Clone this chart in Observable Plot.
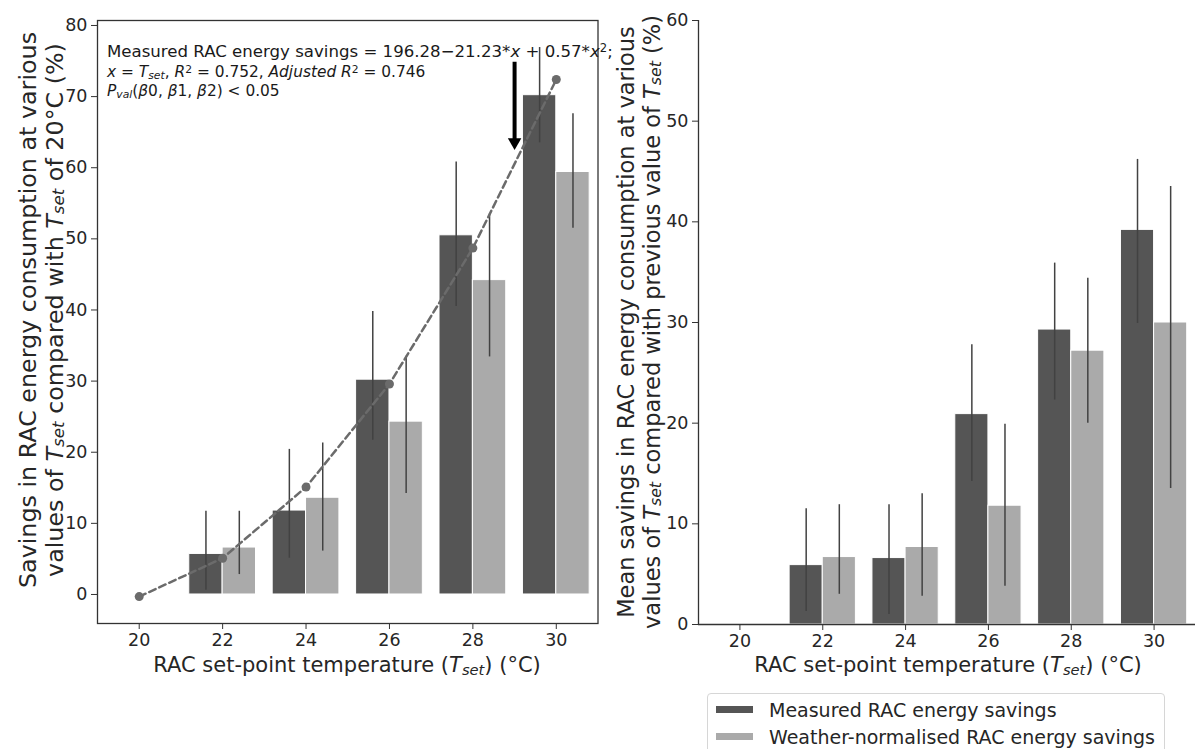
<!DOCTYPE html>
<html><head><meta charset="utf-8">
<script src="https://cdn.jsdelivr.net/npm/d3@7"></script>
<script src="https://cdn.jsdelivr.net/npm/@observablehq/plot@0.6"></script>
<style>
html,body{margin:0;padding:0;background:#fff;overflow:hidden;width:1196px;height:749px;}
#wrap{position:relative;width:1196px;height:749px;font-family:"DejaVu Sans",sans-serif;color:#262626;}
#left,#right{position:absolute;top:0;}
#left{left:0;width:600px;} #right{left:600px;width:596px;}
#legend{position:absolute;left:707px;top:693px;width:458px;height:90px;border:1px solid #d6d6d6;border-radius:4px;background:#fff;box-sizing:border-box;}
.row{position:absolute;left:0;height:27px;display:flex;align-items:center;font-size:19px;color:#262626;white-space:nowrap;}
.sw{display:inline-block;width:37px;height:7px;margin-left:8px;margin-right:16px;}
</style></head><body>
<div id="wrap"><div id="left"></div><div id="right"></div><div id="legend"></div></div>
<script>
// ---- data ----
const temps = [20, 22, 24, 26, 28, 30];
const xTicks = [20, 22, 24, 26, 28, 30];
const yTicksLeft = [0, 10, 20, 30, 40, 50, 60, 70, 80];
const yTicksRight = [0, 10, 20, 30, 40, 50, 60];
const series = ["Measured RAC energy savings", "Weather-normalised RAC energy savings"];
const seriesColors = ["#555555", "#aaaaaa"];

// left panel: savings vs 20°C
const measuredTotal   = [0, 5.7, 11.8, 30.2, 50.5, 70.2];
const measuredTotalLo = [0, 0.6, 5.1, 21.7, 40.5, 63.5];
const measuredTotalHi = [0, 11.7, 20.4, 39.8, 60.8, 76.9];
const weatherTotal    = [0, 6.6, 13.6, 24.3, 44.2, 59.4];
const weatherTotalLo  = [0, 2.8, 6.1, 14.2, 33.4, 51.5];
const weatherTotalHi  = [0, 11.7, 21.3, 33.5, 53.5, 67.6];
const fitValues       = [-0.3, 5.1, 15.1, 29.6, 48.7, 72.4];

// right panel: savings vs previous set-point
const measuredStep   = [0, 5.9, 6.6, 20.9, 29.3, 39.2];
const measuredStepLo = [0, 1.3, 1.0, 14.2, 22.3, 29.9];
const measuredStepHi = [0, 11.5, 11.9, 27.8, 35.9, 46.2];
const weatherStep    = [0, 6.7, 7.7, 11.8, 27.2, 30.0];
const weatherStepLo  = [0, 3.0, 2.8, 3.8, 20.0, 13.5];
const weatherStepHi  = [0, 11.9, 13.0, 19.9, 34.4, 43.5];

// annotation arrow (data units)
const arrowX = [29];
const arrowFrom = [74.9];
const arrowHead = [63.6];

// ---- build tables ----
function table(m, mlo, mhi, w, wlo, whi) {
  const out = [];
  temps.forEach((t, i) => {
    out.push({t, s: series[0], k: 0, v: m[i], lo: mlo[i], hi: mhi[i]});
    out.push({t, s: series[1], k: 1, v: w[i], lo: wlo[i], hi: whi[i]});
  });
  return out;
}
const rowsTotal = table(measuredTotal, measuredTotalLo, measuredTotalHi, weatherTotal, weatherTotalLo, weatherTotalHi);
const rowsStep = table(measuredStep, measuredStepLo, measuredStepHi, weatherStep, weatherStepLo, weatherStepHi);
const fit = temps.map((t, i) => ({t, v: fitValues[i]}));
const arrow = arrowX.map((x, i) => ({x, y1: arrowFrom[i], y2: arrowHead[i]}));

const W = 0.8;
const barMarks = rows => [
  Plot.rect(rows, {x1: d => d.t - W + d.k * W, x2: d => d.t + d.k * W, y1: 0, y2: "v", fill: "s", stroke: "white", strokeWidth: 1}),
  Plot.ruleX(rows, {x: d => d.t - W / 2 + d.k * W, y1: "lo", y2: "hi", stroke: "#424242", strokeWidth: 1.5})
];
const baseStyle = {fontFamily: "DejaVu Sans", fontSize: "17.5px", color: "#262626", background: "transparent", overflow: "visible"};

const left = Plot.plot({
  width: 600, height: 690, marginLeft: 97, marginRight: 2.5, marginTop: 20, marginBottom: 67,
  style: baseStyle,
  x: {type: "linear", domain: [19, 31]},
  y: {domain: [-4.08, 80.7]},
  color: {domain: series, range: seriesColors},
  marks: [
    ...barMarks(rowsTotal),
    Plot.line(fit, {x: "t", y: "v", stroke: "#6b6b6b", strokeWidth: 2.5, strokeDasharray: "7,4"}),
    Plot.dot(fit, {x: "t", y: "v", r: 4.5, fill: "#6b6b6b"}),
    Plot.link(arrow, {x1: "x", x2: "x", y1: "y1", y2: "y2", stroke: "black", strokeWidth: 4}),
    Plot.dot(arrow, {x: "x", y: "y2", symbol: "triangle", rotate: 180, r: 5, fill: "black"}),
    Plot.frame({stroke: "#333", strokeWidth: 1.3}),
    Plot.axisX({ticks: xTicks, tickSize: 6, tickPadding: 4, label: null, stroke: "#333"}),
    Plot.axisY({ticks: yTicksLeft, tickSize: 6, tickPadding: 4, label: null, stroke: "#333"})
  ]
});
document.getElementById("left").appendChild(left);

const right = Plot.plot({
  width: 596, height: 690, marginLeft: 98, marginRight: 1, marginTop: 20, marginBottom: 66,
  style: baseStyle,
  x: {type: "linear", domain: [19, 31]},
  y: {domain: [0, 60]},
  color: {domain: series, range: seriesColors},
  marks: [
    ...barMarks(rowsStep),
    Plot.ruleX([19], {stroke: "#333", strokeWidth: 1.3}),
    Plot.ruleY([0], {stroke: "#333", strokeWidth: 1.3}),
    Plot.axisX({ticks: xTicks, tickSize: 6, tickPadding: 4, label: null, stroke: "#333"}),
    Plot.axisY({ticks: yTicksRight, tickSize: 6, tickPadding: 4, label: null, stroke: "#333"})
  ]
});
document.getElementById("right").appendChild(right);

// ---- rich text helper ----
function rich(sel, parts) {
  parts.forEach(p => {
    const s = sel.append("tspan").text(p.t);
    if (p.i) s.attr("font-style", "italic");
    if (p.sub) s.attr("baseline-shift", "-22%").attr("font-size", "70%");
    if (p.sup) s.attr("baseline-shift", "40%").attr("font-size", "70%");
  });
}
const Tset = [{t: "T", i: true}, {t: "set", i: true, sub: true}];

function ylabel(svg, x, cy, size, parts) {
  const t = d3.select(svg).append("text")
    .attr("transform", `translate(${x},${cy}) rotate(-90)`)
    .attr("text-anchor", "middle").attr("dominant-baseline", "central")
    .attr("font-size", size).attr("fill", "#262626").attr("font-family", "DejaVu Sans");
  rich(t, parts);
}
function xlabel(svg, cx, y) {
  const t = d3.select(svg).append("text").attr("x", cx).attr("y", y)
    .attr("text-anchor", "middle").attr("font-size", 21).attr("fill", "#262626").attr("font-family", "DejaVu Sans");
  rich(t, [{t: "RAC set-point temperature ("}, ...Tset, {t: ") (°C)"}]);
}

ylabel(left, 28, 310, 23.8, [{t: "Savings in RAC energy consumption at various"}]);
ylabel(left, 55, 310, 23.8, [{t: "values of "}, ...Tset, {t: " compared with "}, ...Tset, {t: " of 20°C (%)"}]);
xlabel(left, 347, 672);

ylabel(right, 26, 322, 22.5, [{t: "Mean savings in RAC energy consumption at various"}]);
ylabel(right, 52, 322, 22.5, [{t: "values of "}, ...Tset, {t: " compared with previous value of "}, ...Tset, {t: " (%)"}]);
xlabel(right, 348, 672);

// annotation
const annLines = [
  [{t: "Measured RAC energy savings = 196.28\u221221.23*"}, {t: "x", i: true}, {t: " + 0.57*"}, {t: "x", i: true}, {t: "2", sup: true}, {t: ";"}],
  [{t: "x", i: true}, {t: " = "}, ...Tset, {t: ", "}, {t: "R", i: true}, {t: "2", sup: true}, {t: " = 0.752, "}, {t: "Adjusted R", i: true}, {t: "2", sup: true}, {t: " = 0.746"}],
  [{t: "P", i: true}, {t: "val", i: true, sub: true}, {t: "("}, {t: "\u03b2", i: true}, {t: "0, "}, {t: "\u03b2", i: true}, {t: "1, "}, {t: "\u03b2", i: true}, {t: "2) < 0.05"}]
];
const annY = [56.5, 76.5, 95.5];
const annSize = [16.6, 15.4, 15.4];
annLines.forEach((parts, i) => {
  const t = d3.select(left).append("text").attr("x", 107).attr("y", annY[i])
    .attr("text-anchor", "start")
    .attr("font-size", annSize[i]).attr("fill", "#1a1a1a").attr("font-family", "DejaVu Sans");
  rich(t, parts);
});

// legend
const lg = document.getElementById("legend");
series.forEach((s, i) => {
  const r = document.createElement("div");
  r.className = "row";
  r.style.top = (2 + i * 27) + "px";
  const sw = document.createElement("span");
  sw.className = "sw"; sw.style.background = seriesColors[i];
  r.appendChild(sw);
  r.appendChild(document.createTextNode(s));
  lg.appendChild(r);
});
</script>
</body></html>
